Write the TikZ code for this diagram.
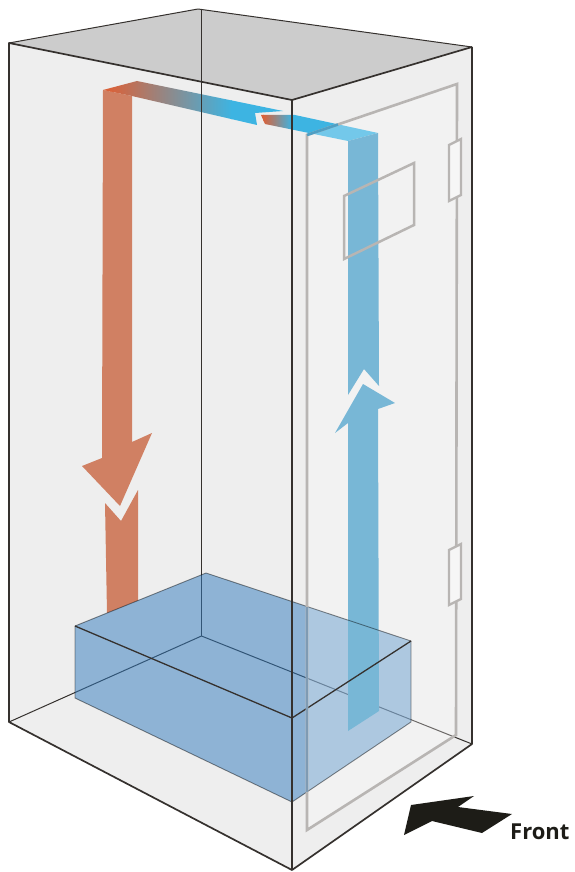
\documentclass[tikz,border=0pt]{standalone}
\usepackage{fontspec}
\setmainfont{Open Sans}
\definecolor{wallc}{HTML}{EEEEEE}
\definecolor{topc}{HTML}{CCCCCC}
\definecolor{edgec}{HTML}{35312E}
\definecolor{blockc}{HTML}{307ABE}
\definecolor{redc}{HTML}{D08063}
\definecolor{bluec}{HTML}{78B7D6}
\definecolor{hotc}{HTML}{D9623A}
\definecolor{coldc}{HTML}{3DB4E2}
\definecolor{frontc}{HTML}{1D1C17}
\definecolor{doorc}{HTML}{B8B5B3}
\definecolor{doorblock}{HTML}{7F9BB3}
\definecolor{doorduct}{HTML}{4F9FC4}
\tikzset{
  edge/.style={draw=edgec,line width=1.7pt,line join=round},
  thinedge/.style={draw=edgec,line width=1pt,line join=round},
  blockedge/.style={draw=black,draw opacity=.45,line width=0.9pt,line join=round},
  doorline/.style={draw=doorc,line width=2.6pt,line join=miter},
  hinge/.style={draw=doorc,fill=white!45!wallc,line width=2.3pt,line join=miter},
  doorfill/.style={fill=white,fill opacity=.28},
}
\begin{document}
\begin{tikzpicture}[x=1pt,y=-1pt]
\useasboundingbox (0,0) rectangle (574,872);
% walls
\fill[wallc] (9,43) -- (198,9) -- (472,47) -- (472,744) -- (292,870) -- (9,722) -- cycle;
\fill[topc] (9,43) -- (198,9) -- (472,47) -- (292,100) -- cycle;
% red column
\fill[redc] (103,90) -- (132,96) -- (132,442) -- (152,433) -- (120,506) -- (82,466) -- (102,458) -- cycle;
\fill[redc] (105,503) -- (121,521) -- (138,490) -- (138,600.5) -- (107,613) -- cycle;
% gradient duct, left
\begin{scope}
  \clip (103,90) -- (137,81) -- (283,111) -- (255,113) -- (257,125) -- (132,96) -- cycle;
  \fill[hotc] (95,70) rectangle (111,135);
  \shade[left color=hotc,right color=coldc] (110,70) rectangle (232,135);
  \fill[coldc] (231,70) rectangle (295,135);
\end{scope}
% gradient duct, right
\begin{scope}
  \clip (261,115) -- (295,115) -- (378,133) -- (348,141) -- (265,124) -- cycle;
  \fill[hotc] (255,105) rectangle (264,145);
  \shade[left color=hotc,right color=coldc] (263,105) rectangle (292,145);
  \fill[coldc] (291,105) rectangle (385,145);
\end{scope}
% inner edges
\draw[thinedge] (201.5,9) -- (201.5,636);
\draw[thinedge] (9,722) -- (201.5,636) -- (472,744);
% block
\fill[blockc,fill opacity=.5] (75,626) -- (206,573) -- (411,641) -- (411,722) -- (292,802) -- (75,698) -- cycle;
% door overlay
\fill[doorfill] (307,135) -- (457,84) -- (456,735) -- (307,830) -- cycle;
% blue column
\fill[bluec] (348,141) -- (378,133) -- (379,386) -- (364,369) -- (348,395) -- cycle;
\fill[bluec] (363,384) -- (395,403) -- (378,409) -- (379,711) -- (348,731) -- (348,423) -- (335,433) -- cycle;
% block edges
\draw[blockedge] (75,698) -- (75,626) -- (206,573) -- (411,641) -- (411,722) -- (292,802) -- cycle;
\draw[edge,line width=1.3pt] (75,626) -- (292,718) -- (411,641);
% door details
\draw[doorline] (307,135) -- (457,84) -- (456,735) -- (307,830) -- cycle;
\draw[draw=doorblock,line width=2.6pt] (307,607) -- (307,792);
\draw[draw=doorduct,line width=2.6pt] (307,135) -- (338,124.5);
\draw[doorline,line width=2.5pt] (344,196) -- (414,163) -- (414,225) -- (344,259) -- cycle;
\draw[hinge] (449,145) -- (461,139) -- (461,195) -- (449,201) -- cycle;
\draw[hinge] (449,550) -- (461,544) -- (461,599) -- (449,605) -- cycle;
% box edges
\draw[thinedge] (9,43) -- (198,9) -- (472,47);
\draw[edge] (472,47) -- (472,744) -- (292,870) -- (9,722) -- (9,43) -- (292,100) -- (472,47);
\draw[edge] (292,100) -- (292,870);
% front arrow
\fill[frontc] (411,805) -- (474,796) -- (458,807) -- (512,814) -- (482,833) -- (432,821) -- (404,835) -- cycle;
\node[anchor=base west,inner sep=0pt,font=\bfseries\fontsize{22}{22}\selectfont,text=frontc] (front) at (510,839) {Front};
\end{tikzpicture}
\end{document}
